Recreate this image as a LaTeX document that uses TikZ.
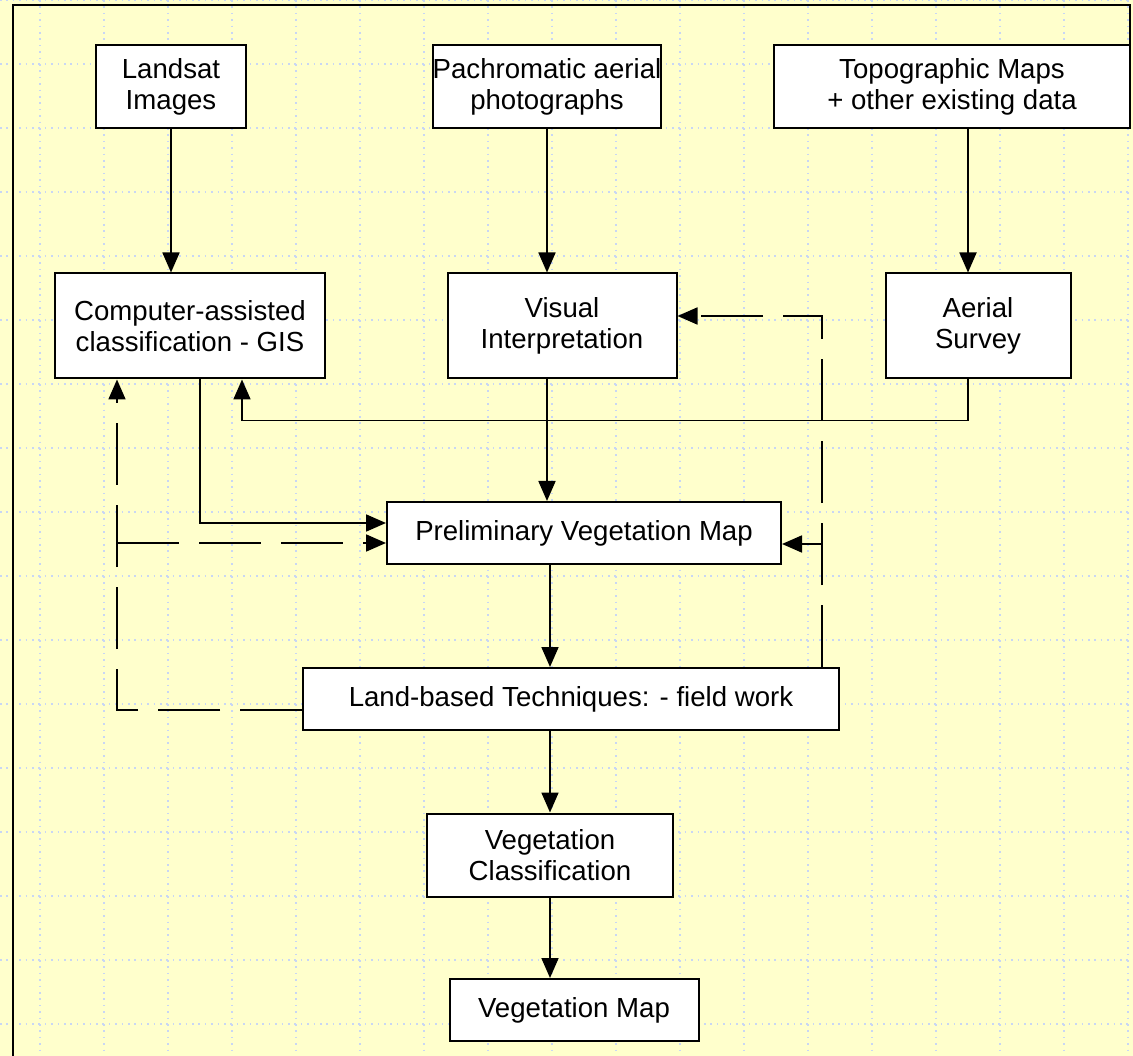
\documentclass[tikz,border=0pt]{standalone}
\usepackage{fontspec}
\setmainfont{Liberation Sans}
\usepackage{tikz}
\usetikzlibrary{arrows.meta,positioning,calc}
\definecolor{bgyellow}{HTML}{FFFFCC}
\definecolor{gridblue}{HTML}{C8D6F4}

\begin{document}
\begin{tikzpicture}[x=1pt, y=-1pt,
        box/.style={draw, rectangle, fill=white, line width=2pt, align=center, inner sep=0pt,
            font=\fontsize{27.6}{31.5}\selectfont},
        arrow/.style={-{Triangle[length=20pt, width=17pt]}, line width=1.8pt},
        dasharrow/.style={arrow, dash pattern=on 62pt off 20pt},
        gridline/.style={gridblue, line width=1.6pt, dash pattern=on 1.6pt off 4.8pt}
    ]
        \useasboundingbox (0,0) rectangle (1133,1056);
        \fill[bgyellow] (0,0) rectangle (1133,1056);

        % Raster
        \foreach \x in {40,104,...,1128}
            \draw[gridline] (\x,0) -- (\x,1056);
        \foreach \y in {0,64,...,1024}
            \draw[gridline] (0,\y) -- (1133,\y);

        % Rahmen
        \draw[line width=2.4pt] (13,1060) -- (13,5) -- (1130,5) -- (1130,45);

        % Datenquellen
        \node[box, minimum width=150pt, minimum height=83pt] (landsat) at (171,87) {Landsat\\Images};
        \node[box, minimum width=228pt, minimum height=83pt] (pach) at (547,87) {Pachromatic aerial\\photographs};
        \node[box, minimum width=356pt, minimum height=83pt] (topo) at (952,87) {Topographic Maps\\+ other existing data};

        % Auswertung
        \node[box, minimum width=270pt, minimum height=105pt] (comp) at (190,326) {Computer-assisted\\classification - GIS};
        \node[box, minimum width=229pt, minimum height=105pt] (visual) at (562,326) {Visual\\Interpretation};
        \node[box, minimum width=185pt, minimum height=105pt] (aerial) at (978,326) {Aerial\\Survey};

        % Karten und Feldarbeit
        \node[box, minimum width=394pt, minimum height=62pt] (prelim) at (584,533) {Preliminary Vegetation Map};
        \node[box, minimum width=536pt, minimum height=62pt] (land) at (571,699) {Land-based Techniques: - field work};
        \node[box, minimum width=246pt, minimum height=83pt] (vclass) at (550,855) {Vegetation\\Classification};
        \node[box, minimum width=249pt, minimum height=62pt] (vmap) at (574,1010) {Vegetation Map};

        \coordinate (lj) at (117,543);
        \coordinate (rj) at (822,544);

        % Verbindungen
        \draw[arrow] (landsat.south) -- (landsat.south |- comp.north);
        \draw[arrow] (pach.south) -- (pach.south |- visual.north);
        \draw[arrow] ([xshift=16pt]topo.south) -- ([xshift=16pt]topo.south |- aerial.north);

        \draw[arrow] (visual.south -| pach) -- (prelim.north -| pach);
        \draw[arrow] ([xshift=10pt]comp.south) |- ([yshift=10pt]prelim.west);
        \draw[arrow] ([xshift=-10pt]aerial.south) -- ++(0,41) -| ([xshift=52pt]comp.south);

        \draw[arrow] (prelim.south -| vclass) -- (land.north -| vclass);
        \draw[arrow] (land.south -| vclass) -- (vclass.north);
        \draw[arrow] (vclass.south) -- (vclass.south |- vmap.north);

        % Rueckkopplung (gestrichelt)
        \draw[dasharrow] ([yshift=-11pt]land.west) -| ([xshift=-73pt]comp.south);
        \draw[dasharrow] (lj) -- (lj -| prelim.west);
        \draw[dasharrow] ([xshift=251pt]land.north) |- ([yshift=10pt]visual.east);
        \draw[dasharrow] (rj) -- (rj -| prelim.east);
    \end{tikzpicture}
\end{document}
